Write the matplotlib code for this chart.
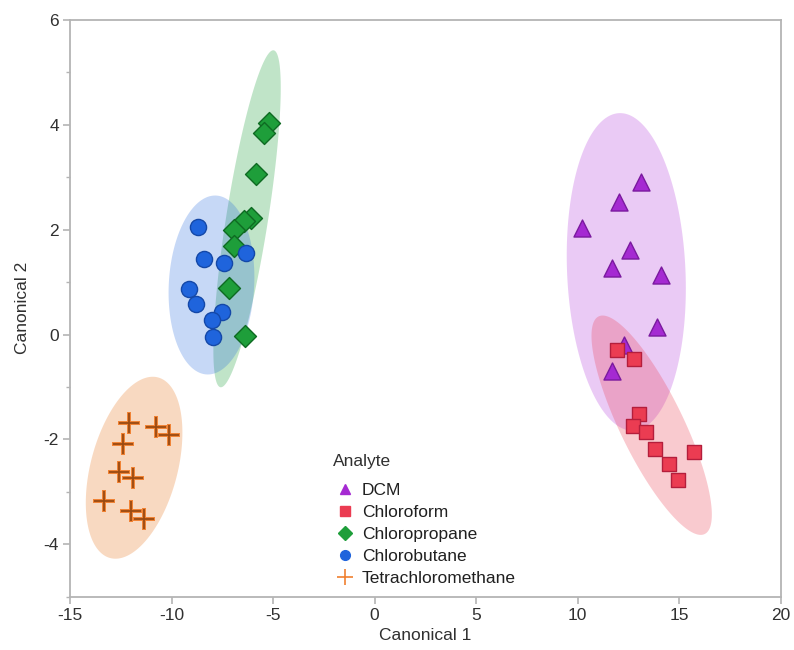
import numpy as np
import matplotlib
matplotlib.use("Agg")
import matplotlib.pyplot as plt
from matplotlib.lines import Line2D

plt.rcParams["font.family"] = ["Liberation Sans", "DejaVu Sans"]
plt.rcParams["axes.unicode_minus"] = False

# -------------------------
# Canonical scores per analyte
# -------------------------
dcm_x = [13.10, 12.04, 10.23, 12.58, 11.68, 14.09, 13.89, 12.28, 11.68]
dcm_y = [2.91, 2.53, 2.04, 1.62, 1.27, 1.14, 0.14, -0.19, -0.70]

chloroform_x = [11.96, 12.77, 13.02, 12.74, 13.35, 13.79, 15.73, 14.50, 14.96]
chloroform_y = [-0.30, -0.46, -1.51, -1.75, -1.86, -2.19, -2.24, -2.47, -2.78]

chloropropane_x = [-5.22, -5.47, -5.86, -6.11, -6.44, -6.93, -6.93, -7.18, -6.39]
chloropropane_y = [4.03, 3.84, 3.07, 2.23, 2.17, 2.00, 1.68, 0.89, -0.03]

chlorobutane_x = [-8.68, -8.41, -7.42, -6.34, -9.15, -8.82, -7.50, -8.03, -7.95]
chlorobutane_y = [2.06, 1.44, 1.36, 1.56, 0.86, 0.58, 0.43, 0.27, -0.05]

tetra_x = [-12.10, -10.75, -10.13, -12.40, -12.60, -11.91, -13.33, -12.02, -11.36]
tetra_y = [-1.68, -1.76, -1.92, -2.08, -2.63, -2.74, -3.17, -3.36, -3.52]

analytes = ["DCM", "Chloroform", "Chloropropane", "Chlorobutane", "Tetrachloromethane"]
xs = [dcm_x, chloroform_x, chloropropane_x, chlorobutane_x, tetra_x]
ys = [dcm_y, chloroform_y, chloropropane_y, chlorobutane_y, tetra_y]

x_ticks = [-15, -10, -5, 0, 5, 10, 15, 20]
y_ticks = [-4, -2, 0, 2, 4, 6]

# style per analyte
markers = ["^", "s", "D", "o", "+"]
faces = ["#A52AD2", "#EB3C52", "#1E9E3A", "#1F64DC", "#F08030"]
edges = ["#7A1A9E", "#B41E3C", "#0E6A22", "#1448A8", "#F08030"]
sizes = [150, 105, 125, 135, 240]
fills = ["#B43CDC", "#EB3C50", "#1EA03C", "#1E64DC", "#EB8232"]
fill_alpha = [0.27, 0.27, 0.28, 0.25, 0.30]

# 95% density ellipse radius for 2 dof
k95 = np.sqrt(5.991)


def density_ellipse(x, y, n=200):
    pts = np.column_stack([x, y])
    mu = pts.mean(axis=0)
    cov = np.cov(pts, rowvar=False)
    L = np.linalg.cholesky(cov)
    t = np.linspace(0, 2 * np.pi, n)
    circ = np.vstack([np.cos(t), np.sin(t)])
    ell = mu[:, None] + k95 * L @ circ
    return ell[0], ell[1]


fig = plt.figure(figsize=(7.94, 6.5), dpi=100)
ax = fig.add_axes([0.0882, 0.0820, 0.8950, 0.8872])

# ellipses first, points on top
for x, y, c, a in zip(xs, ys, fills, fill_alpha):
    ex, ey = density_ellipse(x, y)
    ax.fill(ex, ey, color=c, alpha=a, lw=0, zorder=1)

for i, (x, y) in enumerate(zip(xs, ys)):
    if markers[i] == "+":
        ax.scatter(x, y, marker="+", s=sizes[i], color="#F08030", linewidths=2.8, zorder=3)
        ax.scatter(x, y, marker="+", s=sizes[i] * 0.85, color="#9A4A12", linewidths=1.3, zorder=4)
    else:
        ax.scatter(x, y, marker=markers[i], s=sizes[i], facecolor=faces[i],
                   edgecolor=edges[i], linewidths=1.0, zorder=3)

ax.set_xlim(-15, 20)
ax.set_ylim(-5, 6)
ax.set_xticks(x_ticks)
ax.set_yticks(y_ticks)
ax.set_yticks(np.arange(-5, 6, 1), minor=True)

for s in ax.spines.values():
    s.set_color("#B4B4B4")
    s.set_linewidth(1.3)
ax.tick_params(axis="both", which="major", length=5, width=1.2, color="#B4B4B4",
               labelsize=12.5, labelcolor="#303030", pad=3)
ax.tick_params(axis="y", which="minor", length=3, width=1.0, color="#B4B4B4")

ax.set_xlabel("Canonical 1", fontsize=12.5, color="#303030", labelpad=4)
ax.set_ylabel("Canonical 2", fontsize=12.5, color="#303030", labelpad=10)

# legend (title drawn separately so the gap under it can be set)
handles = []
for i, name in enumerate(analytes):
    if markers[i] == "+":
        h = Line2D([], [], marker="+", ls="none", color="#F08030", markersize=12, markeredgewidth=1.2)
    else:
        h = Line2D([], [], marker=markers[i], ls="none", color=faces[i],
                   markeredgecolor=faces[i], markersize=7)
    handles.append(h)
leg = ax.legend(handles, analytes, loc="upper left",
                bbox_to_anchor=(0.369, 0.198), frameon=False, fontsize=12.5,
                handlelength=1.5, handletextpad=0.2, labelspacing=0.395,
                borderaxespad=0, borderpad=0)
for txt in leg.get_texts():
    txt.set_color("#202020")
ax.text(0.370, 0.2336, "Analyte", transform=ax.transAxes, fontsize=12.5,
        color="#303030", ha="left", va="center")

plt.savefig("out.png", dpi=100)
